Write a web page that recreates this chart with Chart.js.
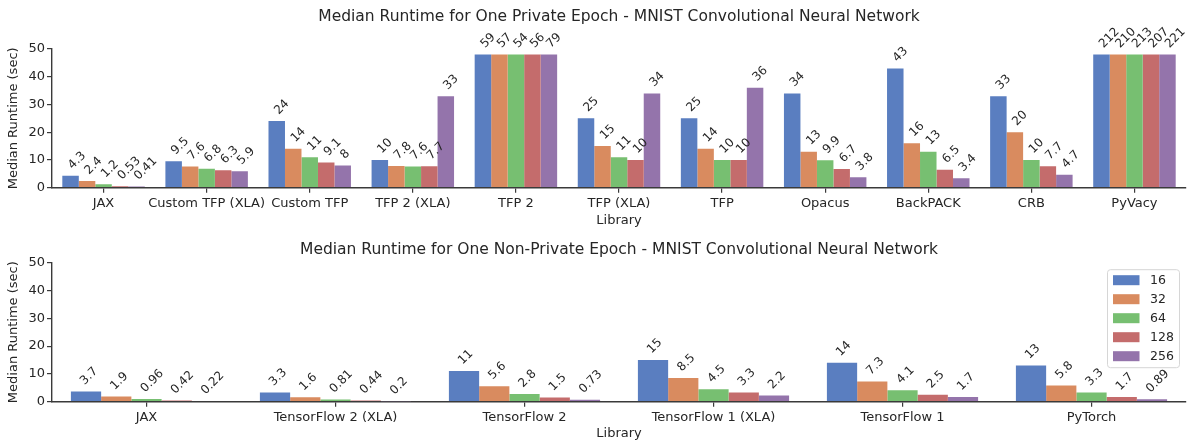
<!DOCTYPE html>
<html>
<head>
<meta charset="utf-8">
<script src="https://cdn.jsdelivr.net/npm/chart.js@4.4.0/dist/chart.umd.min.js"></script>
<style>
	body { margin: 0; background: #fff; }
	.panel { position: absolute; left: 0; width: 1191px; }
	#panel_private { top: 0; height: 230px; }
	#panel_nonprivate { top: 230px; height: 213px; }
</style>
</head>
<body>
<div class="panel" id="panel_private"><canvas id="cntx_private"></canvas></div>
<div class="panel" id="panel_nonprivate"><canvas id="cntx_nonprivate"></canvas></div>
<script>
// batch sizes (legend)
const batch_sizes = ["16", "32", "64", "128", "256"];
const batch_colors = ["#5a7ec0", "#d98b5f", "#77bf71", "#c46c6c", "#9474ab"];

// private epoch runtimes (sec), one array per batch size
const private_libraries = ["JAX", "Custom TFP (XLA)", "Custom TFP", "TFP 2 (XLA)", "TFP 2",
	"TFP (XLA)", "TFP", "Opacus", "BackPACK", "CRB", "PyVacy"];
const private_16 = [4.3, 9.5, 24, 10, 59, 25, 25, 34, 43, 33, 212];
const private_32 = [2.4, 7.6, 14, 7.8, 57, 15, 14, 13, 16, 20, 210];
const private_64 = [1.2, 6.8, 11, 7.6, 54, 11, 10, 9.9, 13, 10, 213];
const private_128 = [0.53, 6.3, 9.1, 7.7, 56, 10, 10, 6.7, 6.5, 7.7, 207];
const private_256 = [0.41, 5.9, 8, 33, 79, 34, 36, 3.8, 3.4, 4.7, 221];

// non-private epoch runtimes (sec)
const nonprivate_libraries = ["JAX", "TensorFlow 2 (XLA)", "TensorFlow 2",
	"TensorFlow 1 (XLA)", "TensorFlow 1", "PyTorch"];
const nonprivate_16 = [3.7, 3.3, 11, 15, 14, 13];
const nonprivate_32 = [1.9, 1.6, 5.6, 8.5, 7.3, 5.8];
const nonprivate_64 = [0.96, 0.81, 2.8, 4.5, 4.1, 3.3];
const nonprivate_128 = [0.42, 0.44, 1.5, 3.3, 2.5, 1.7];
const nonprivate_256 = [0.22, 0.2, 0.73, 2.2, 1.7, 0.89];

const y_ticks = [0, 10, 20, 30, 40, 50];
const bar_cap = 48; // bars taller than this are cut off, label keeps the real value

const FONT = "'DejaVu Sans', sans-serif";
const TEXT_COLOR = "#262626";
const AXIS_COLOR = "#3a3a3a";

// rotated value labels above each bar
const valueLabels = {
	id: "valueLabels",
	afterDatasetsDraw(chart) {
		const ctx = chart.ctx;
		ctx.save();
		ctx.font = "12px " + FONT;
		ctx.fillStyle = TEXT_COLOR;
		ctx.textAlign = "center";
		ctx.textBaseline = "middle";
		chart.data.datasets.forEach((ds, i) => {
			chart.getDatasetMeta(i).data.forEach((bar, j) => {
				const text = String(ds.rawValues[j]);
				const w = ctx.measureText(text).width;
				const box = (w + 9) * Math.SQRT1_2;
				const left = bar.x - bar.width / 2 + bar.width * 0.25;
				ctx.save();
				ctx.translate(left + box / 2, bar.y - 6 - box / 2);
				ctx.rotate(-Math.PI / 4);
				ctx.fillText(text, 0, 1);
				ctx.restore();
			});
		});
		ctx.restore();
	},
};

// title centred over the plot area (not the whole canvas)
const areaTitle = {
	id: "areaTitle",
	afterDraw(chart) {
		const ctx = chart.ctx;
		const area = chart.chartArea;
		ctx.save();
		ctx.font = "15.5px " + FONT;
		ctx.fillStyle = TEXT_COLOR;
		ctx.textAlign = "center";
		ctx.textBaseline = "middle";
		ctx.fillText(chart.config.options.titleText, (area.left + area.right) / 2, chart.config.options.titleY);
		ctx.restore();
	},
};

// legend box drawn inside the plot area, upper right
const insideLegend = {
	id: "insideLegend",
	afterDraw(chart) {
		const ctx = chart.ctx;
		const area = chart.chartArea;
		const bw = 72, bh = 98;
		const bx = area.right - 7 - bw;
		const by = area.top + 6.5;
		ctx.save();
		ctx.fillStyle = "rgba(255,255,255,0.85)";
		ctx.strokeStyle = "#d6d6d6";
		ctx.lineWidth = 1;
		ctx.beginPath();
		ctx.roundRect(bx + 0.5, by + 0.5, bw, bh, 3);
		ctx.fill();
		ctx.stroke();
		ctx.font = "12.5px " + FONT;
		ctx.textAlign = "left";
		ctx.textBaseline = "middle";
		chart.data.datasets.forEach((ds, i) => {
			const cy = by + 11 + i * 19;
			ctx.fillStyle = ds.backgroundColor;
			ctx.fillRect(bx + 6, cy - 5, 26.5, 10);
			ctx.fillStyle = TEXT_COLOR;
			ctx.fillText(ds.label, bx + 43, cy + 0.5);
		});
		ctx.restore();
	},
};

makeDatasets = (series) => {
	return series.map((values, i) => ({
		label: batch_sizes[i],
		data: values.map((v) => Math.min(v, bar_cap)),
		rawValues: values,
		backgroundColor: batch_colors[i],
		borderWidth: 0,
		categoryPercentage: 0.8,
		barPercentage: 1.0,
	}));
};

drawChart = (canvas, labels, series, title, titleY, topPad, xHeight, plugins) => {
	return new Chart(canvas, {
		type: "bar",
		data: {
			labels: labels,
			datasets: makeDatasets(series),
		},
		options: {
			responsive: true,
			maintainAspectRatio: false,
			animation: false,
			titleText: title,
			titleY: titleY,
			layout: { padding: { left: 0, right: 5, top: topPad, bottom: 0 } },
			plugins: {
				legend: { display: false },
				tooltip: { enabled: false },
				title: { display: false },
			},
			scales: {
				x: {
					offset: true,
					afterFit: (scale) => { scale.height = xHeight; },
					grid: {
						offset: false,
						drawOnChartArea: false,
						drawTicks: true,
						tickLength: 5,
						color: AXIS_COLOR,
						lineWidth: 1.2,
					},
					border: { display: true, color: AXIS_COLOR, width: 1.4 },
					ticks: {
						color: TEXT_COLOR,
						font: { family: FONT, size: 13 },
						padding: 3,
						maxRotation: 0,
						autoSkip: false,
					},
					title: {
						display: true,
						text: "Library",
						color: TEXT_COLOR,
						font: { family: FONT, size: 13 },
						padding: { top: 0, bottom: 1.2 },
					},
				},
				y: {
					min: 0,
					max: 50,
					afterFit: (scale) => { scale.width = 52; },
					afterBuildTicks: (scale) => {
						scale.ticks = y_ticks.map((v) => ({ value: v }));
					},
					grid: {
						drawOnChartArea: false,
						drawTicks: true,
						tickLength: 5,
						color: AXIS_COLOR,
						lineWidth: 1.2,
					},
					border: { display: true, color: AXIS_COLOR, width: 1.4 },
					ticks: {
						color: TEXT_COLOR,
						font: { family: FONT, size: 13 },
						padding: 2,
					},
					title: {
						display: true,
						text: "Median Runtime (sec)",
						color: TEXT_COLOR,
						font: { family: FONT, size: 13 },
						padding: { top: 6, bottom: 0 },
					},
				},
			},
		},
		plugins: plugins,
	});
};

drawChart(
	document.querySelector("#cntx_private"),
	private_libraries,
	[private_16, private_32, private_64, private_128, private_256],
	"Median Runtime for One Private Epoch - MNIST Convolutional Neural Network",
	16.5,
	49,
	42.3,
	[valueLabels, areaTitle]
);

drawChart(
	document.querySelector("#cntx_nonprivate"),
	nonprivate_libraries,
	[nonprivate_16, nonprivate_32, nonprivate_64, nonprivate_128, nonprivate_256],
	"Median Runtime for One Non-Private Epoch - MNIST Convolutional Neural Network",
	19.5,
	32.7,
	41.3,
	[valueLabels, areaTitle, insideLegend]
);
</script>
</body>
</html>
